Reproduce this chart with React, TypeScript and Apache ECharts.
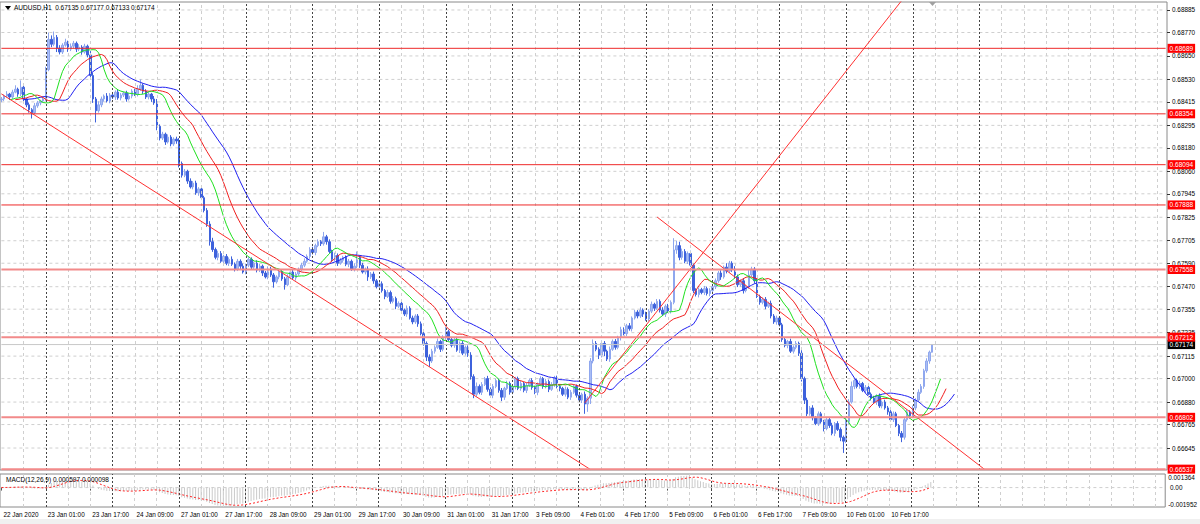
import React, { useEffect, useRef } from "react";
import * as echarts from "echarts";

// ---------- data ----------
const headerText = "AUDUSD,H1  0.67135 0.67177 0.67133 0.67174";
const macdHeaderText = "MACD(12,26,9) 0.000597 0.000098";

// prices in points (0.00001) above 0.66000
const BASE = 0.66;
const PT = 0.00001;
const firstOpen = 2425;
const closes = [
  2430, 2445, 2455, 2440, 2465, 2480, 2455, 2490, 2430, 2400, 2375, 2360, 2395, 2410, 2420, 2430,
  2580, 2735, 2710, 2745, 2690, 2670, 2705, 2720, 2685, 2700, 2715, 2685, 2695, 2670, 2700, 2655,
  2550, 2430, 2370,
  2400, 2430, 2445, 2420, 2450, 2440, 2465, 2435, 2450, 2460, 2430, 2445, 2470, 2455, 2480, 2500, 2470, 2440, 2455, 2430, 2410,
  2290, 2230, 2250, 2210, 2235, 2200, 2225, 2215,
  2100, 2040, 2060, 2010, 1980, 2000, 1950, 1970, 1925,
  1860, 1790, 1700,
  1660, 1620, 1640, 1600, 1625, 1590, 1610,
  1585, 1560, 1600, 1575, 1545, 1580, 1610, 1570, 1590, 1555, 1575,
  1540, 1520, 1560, 1530, 1495, 1520, 1545, 1510, 1480, 1520, 1545, 1515, 1535, 1560,
  1580, 1600, 1625, 1660, 1645, 1680, 1700, 1690, 1725, 1700,
  1650, 1610, 1630, 1590, 1605, 1620, 1585,
  1600, 1560, 1575, 1620, 1580, 1545, 1560, 1520, 1535,
  1500, 1470, 1485, 1450,
  1420, 1440, 1395, 1410, 1370, 1385,
  1350, 1330, 1360, 1310, 1290, 1320, 1280,
  1230, 1180, 1110, 1090, 1140,
  1160, 1190, 1150, 1210, 1240, 1200, 1170, 1200, 1145, 1180, 1130, 1160, 1120,
  1010, 920, 960,
  930, 970, 1000, 945, 915, 960, 990, 940, 905, 950, 975, 930, 960, 1000, 950,
  975, 940, 965, 990, 955, 930, 970, 1000, 960, 985, 945, 970, 1005, 960,
  950, 920, 945, 905, 930, 960, 915, 890, 920, 870, 900,
  1090, 1180, 1150,
  1120, 1180, 1140, 1100, 1150, 1190, 1160, 1210,
  1250, 1230, 1270, 1255,
  1310, 1340, 1320, 1350, 1330, 1305,
  1345, 1380, 1360, 1395, 1350, 1330, 1370, 1345, 1390,
  1658, 1680, 1620, 1650, 1600, 1640, 1580,
  1450, 1430, 1455, 1440, 1460, 1435, 1450, 1470,
  1500, 1540, 1520, 1570, 1550, 1590, 1560,
  1520, 1480, 1500, 1450, 1470,
  1530, 1560, 1500,
  1420, 1390, 1405, 1370, 1385,
  1320, 1290, 1310, 1275,
  1200, 1170, 1190, 1140, 1160, 1180, 1130,
  1000, 890, 820,
  850, 800, 770, 820, 780, 745, 790,
  760, 720, 770, 740, 700, 680,
  780, 880, 960,
  990, 960, 975, 940, 955, 920,
  900, 880, 910, 860, 880, 850,
  830, 790, 820, 760, 720, 700,
  790, 830, 810, 850,
  890, 930, 960,
  1040, 1090, 1135, 1174,
];
const upWick = [
  10, 8, 15, 6, 12, 20, 8, 35, 10, 6, 12, 8, 14, 10, 6, 12,
  15, 35, 20, 30, 12, 15, 10, 18, 8, 14, 12, 9, 15, 10, 12, 8,
  20, 15, 10, 18, 12, 8, 15, 10, 12, 9, 14, 10, 8, 12, 15, 10,
  12, 20, 30, 8, 10, 12, 6, 15, 20, 10, 12, 8, 14, 10, 9, 12,
  15, 10, 12, 8, 14, 10, 12, 9, 8, 10, 12, 15, 20, 10, 14, 12,
  8, 12, 10, 15, 9, 12, 10, 14, 8, 12, 10, 9, 15, 12, 8, 10,
  14, 12, 10, 8, 15, 12, 10, 14, 9, 12, 10, 8, 12, 15, 10, 12,
  14, 10, 12, 8, 25, 10, 12, 9, 14, 10, 12, 8, 10, 12, 9, 15,
  30, 10, 12, 8, 14, 10, 12, 9, 10, 12, 8, 14, 10, 12, 9, 10,
  12, 8, 14, 10, 12, 9, 10, 12, 8, 10, 14, 12, 10, 15, 8, 12,
  25, 10, 12, 8, 14, 10, 12, 9, 10, 15, 12, 20, 10, 12, 8, 14,
  10, 12, 9, 10, 12, 8, 14, 10, 12, 9, 10, 12, 8, 14, 10, 12,
  9, 10, 12, 8, 14, 10, 12, 9, 10, 12, 8, 14, 10, 12, 9, 10,
  12, 8, 14, 10, 15, 20, 12, 10, 15, 12, 8, 14, 10, 12, 9, 15,
  12, 10, 14, 8, 12, 10, 15, 9, 12, 10, 14, 8, 12, 10, 15, 9,
  12, 10, 60, 25, 20, 15, 12, 10, 14, 8, 12, 10, 9, 14, 10, 12,
  15, 12, 10, 14, 8, 20, 12, 10, 15, 12, 8, 14, 10, 25, 12, 10,
  12, 9, 10, 12, 8, 14, 10, 12, 9, 10, 12, 8, 14, 10, 12, 9,
  15, 10, 12, 10, 14, 8, 12, 10, 9, 12, 10, 14, 8, 12, 10, 9,
  20, 15, 25, 12, 10, 14, 8, 12, 10, 9, 12, 10, 14, 8, 12, 10,
  9, 12, 10, 8, 12, 10, 14, 8, 12, 10, 15, 12, 10, 14, 8, 3,
];
const downWick = [
  12, 10, 8, 15, 10, 6, 14, 10, 20, 12, 15, 30, 8, 10, 12, 8,
  10, 8, 15, 10, 20, 12, 10, 8, 14, 10, 12, 15, 10, 14, 8, 12,
  15, 20, 60, 10, 12, 14, 8, 12, 10, 15, 9, 12, 10, 14, 8, 12,
  10, 12, 8, 14, 10, 12, 15, 10, 20, 12, 10, 15, 8, 12, 10, 14,
  20, 12, 10, 14, 8, 12, 10, 15, 12, 10, 14, 20, 12, 10, 15, 8,
  12, 10, 14, 9, 12, 10, 15, 8, 12, 10, 14, 9, 12, 10, 15, 8,
  12, 10, 30, 9, 12, 10, 25, 8, 12, 10, 14, 9, 12, 10, 8, 12,
  10, 14, 8, 12, 10, 15, 9, 12, 10, 14, 8, 12, 10, 15, 9, 12,
  10, 14, 8, 12, 20, 10, 15, 9, 12, 10, 14, 8, 12, 10, 15, 9,
  12, 10, 14, 8, 12, 10, 15, 9, 12, 20, 30, 10, 12, 8, 14, 10,
  12, 9, 10, 12, 8, 14, 10, 12, 9, 15, 20, 12, 10, 14, 8, 12,
  10, 15, 9, 12, 20, 14, 8, 12, 10, 15, 9, 12, 10, 14, 8, 12,
  10, 15, 9, 12, 10, 14, 8, 12, 10, 15, 9, 12, 10, 14, 8, 12,
  10, 15, 50, 40, 30, 12, 10, 20, 12, 25, 10, 14, 8, 12, 10, 15,
  9, 12, 10, 14, 8, 12, 10, 15, 9, 12, 10, 14, 8, 12, 10, 15,
  9, 12, 10, 20, 15, 12, 10, 14, 8, 12, 10, 15, 9, 12, 10, 14,
  8, 12, 10, 15, 9, 12, 10, 14, 8, 12, 10, 15, 9, 12, 10, 14,
  8, 12, 10, 15, 9, 12, 10, 14, 8, 12, 10, 15, 9, 12, 10, 14,
  15, 20, 12, 10, 14, 8, 12, 10, 15, 9, 12, 10, 14, 8, 20, 60,
  10, 12, 8, 14, 10, 12, 9, 15, 10, 12, 8, 14, 10, 12, 9, 15,
  10, 12, 8, 14, 25, 12, 10, 15, 9, 12, 10, 8, 12, 10, 14, 2,
];

const xLabels = [
  "22 Jan 2020", "23 Jan 01:00", "23 Jan 17:00", "24 Jan 09:00", "27 Jan 01:00",
  "27 Jan 17:00", "28 Jan 09:00", "29 Jan 01:00", "29 Jan 17:00", "30 Jan 09:00",
  "31 Jan 01:00", "31 Jan 17:00", "3 Feb 09:00", "4 Feb 01:00", "4 Feb 17:00",
  "5 Feb 09:00", "6 Feb 01:00", "6 Feb 17:00", "7 Feb 09:00", "10 Feb 01:00", "10 Feb 17:00",
];
const yTicks = [
  0.68885, 0.6877, 0.6865, 0.6853, 0.68415, 0.68295, 0.6818, 0.6806, 0.67945, 0.67825,
  0.67705, 0.6759, 0.6747, 0.67355, 0.67235, 0.67115, 0.67, 0.6688, 0.66765, 0.66645,
];
// horizontal levels drawn on the chart
const upperLevels = [0.68689, 0.68354, 0.68094, 0.67888];
const lowerLevels = [0.67558, 0.67212, 0.66802, 0.66537];
const lastPrice = 0.67174;
// trend lines: [barIndex, price] pairs
const trendLines = [
  [[0, 0.68456], [212, 0.66535]],
  [[236, 0.67826], [354, 0.66534]],
  [[210, 0.66876], [324, 0.68933]],
];
const macdTicks = [0.001364, 0, -0.001952];
const macdTickText = ["0.001364", "0.00", "-0.001952"];

// ---------- layout constants ----------
const SLOTS = 420;
const LABEL_EVERY = 16;
const Y_MAX = 0.689259;
const Y_MIN = 0.665326;
const FONT = "'Liberation Sans', Arial, sans-serif";

function buildOHLC() {
  const out: number[][] = [];
  const med: number[] = [];
  for (let i = 0; i < closes.length; i++) {
    const o = i === 0 ? firstOpen : closes[i - 1];
    const c = closes[i];
    const h = Math.max(o, c) + upWick[i];
    const l = Math.min(o, c) - downWick[i];
    out.push([BASE + o * PT, BASE + c * PT, BASE + l * PT, BASE + h * PT]);
    med.push(BASE + ((h + l) / 2) * PT);
  }
  return { out, med };
}

function smmaShift(src: number[], period: number, shift: number) {
  const res: (number | null)[] = new Array(SLOTS).fill(null);
  let s = src[0];
  for (let i = 0; i < src.length; i++) {
    s = i === 0 ? src[0] : (s * (period - 1) + src[i]) / period;
    if (i + shift < SLOTS) res[i + shift] = s;
  }
  return res;
}

function macdCalc() {
  const px = closes.map((c) => BASE + c * PT);
  const k12 = 2 / 13, k26 = 2 / 27;
  let e12 = px[0], e26 = px[0];
  const m: number[] = [];
  for (let i = 0; i < px.length; i++) {
    e12 = i === 0 ? px[0] : px[i] * k12 + e12 * (1 - k12);
    e26 = i === 0 ? px[0] : px[i] * k26 + e26 * (1 - k26);
    m.push(e12 - e26);
  }
  const sig: number[] = [];
  for (let i = 0; i < m.length; i++) {
    const a = Math.max(0, i - 8);
    let s = 0;
    for (let j = a; j <= i; j++) s += m[j];
    sig.push(s / (i - a + 1));
  }
  return { m, sig };
}

function hLine(v: number, lineStyle: any, z: number, xi = 0, yi = 0, label?: any) {
  return {
    type: "line", xAxisIndex: xi, yAxisIndex: yi, silent: true, z,
    data: [[0, v], [SLOTS - 1, v]], showSymbol: false, symbol: "none",
    lineStyle, endLabel: label ? label : { show: false },
  };
}

function tag(text: string, bg: string) {
  return {
    show: true, formatter: () => text, distance: 2,
    backgroundColor: bg, color: "#ffffff", fontSize: 6.5, fontFamily: FONT, padding: [1, 2, 1, 2],
  };
}

export default function App() {
  const ref = useRef<HTMLDivElement>(null);
  useEffect(() => {
    if (!ref.current) return;
    const chart = echarts.init(ref.current, null, { renderer: "svg" });
    const cats = Array.from({ length: SLOTS }, (_, i) => String(i));
    const { out, med } = buildOHLC();
    const jaw = smmaShift(med, 13, 8);
    const teeth = smmaShift(med, 8, 5);
    const lips = smmaShift(med, 5, 3);
    const { m, sig } = macdCalc();

    const vGrid: any[] = [];
    for (let k = 8; k < SLOTS; k += 8) {
      const dark = (k - 16) % 24 === 0 && k <= 352;
      vGrid.push({
        xAxis: k,
        lineStyle: dark
          ? { color: "#454545", type: [2, 2], width: 1 }
          : { color: "#cfcfcf", type: [3, 3], width: 1 },
      });
    }
    const gridDash = { color: "#cfcfcf", type: [3, 3], width: 1 };

    const labelInterval = (index: number) => index % LABEL_EVERY === 0 && index / LABEL_EVERY < xLabels.length;
    const macdEdgeTicks = [macdTicks[0], macdTicks[2]];

    const option: any = {
      animation: false,
      backgroundColor: "#ffffff",
      textStyle: { fontFamily: FONT },
      grid: [
        { left: 0, top: 2, width: 1167, height: 468, show: true, borderColor: "#8a8a8a", borderWidth: 1 },
        { left: 0, top: 474, width: 1167, height: 33, show: true, borderColor: "#8a8a8a", borderWidth: 1 },
      ],
      xAxis: [
        {
          type: "category", data: cats, gridIndex: 0, boundaryGap: true,
          axisLine: { show: false }, axisTick: { show: false }, axisLabel: { show: false }, splitLine: { show: false },
        },
        {
          type: "category", data: cats, gridIndex: 1, boundaryGap: true,
          axisLine: { show: false },
          axisTick: { show: true, alignWithLabel: true, interval: labelInterval, length: 3, lineStyle: { color: "#555" } },
          axisLabel: {
            show: true, interval: labelInterval, align: "left", margin: 4, padding: [0, 0, 0, 2],
            fontSize: 6.4, color: "#000", fontFamily: FONT,
            formatter: (v: string) => xLabels[Number(v) / LABEL_EVERY] ?? "",
          },
          splitLine: { show: false },
        },
      ],
      yAxis: [
        {
          type: "value", gridIndex: 0, position: "right", min: Y_MIN, max: Y_MAX, scale: true,
          axisLine: { show: false },
          axisTick: { show: true, customValues: yTicks, length: 3, lineStyle: { color: "#333" } },
          splitLine: { show: false },
          axisLabel: {
            customValues: yTicks, margin: 5, fontSize: 6.4, color: "#000", fontFamily: FONT,
            hideOverlap: false, showMinLabel: true, showMaxLabel: true,
            formatter: (v: number) => v.toFixed(5),
          },
        },
        {
          type: "value", gridIndex: 1, position: "right", min: macdTicks[2], max: macdTicks[0],
          axisLine: { show: false },
          axisTick: { show: false },
          splitLine: { show: false },
          axisLabel: {
            customValues: macdEdgeTicks, margin: 3, fontSize: 6.4, color: "#000", fontFamily: FONT,
            hideOverlap: false, showMinLabel: true, showMaxLabel: true,
            formatter: (v: number) => (v > 0 ? `{t|${macdTickText[0]}}` : `{b|${macdTickText[2]}}`),
            rich: {
              t: { padding: [7, 0, 0, 0], fontSize: 6.4, color: "#000" },
              b: { padding: [0, 0, 5, 0], fontSize: 6.4, color: "#000" },
            },
          },
        },
      ],
      series: [
        {
          type: "line", xAxisIndex: 0, yAxisIndex: 0, data: [], z: 1, silent: true,
          markLine: { silent: true, symbol: ["none", "none"], label: { show: false }, data: vGrid },
        },
        {
          type: "line", xAxisIndex: 1, yAxisIndex: 1, data: [], z: 1, silent: true,
          markLine: { silent: true, symbol: ["none", "none"], label: { show: false }, data: vGrid },
        },
        ...yTicks.map((v) => hLine(v, gridDash, 1)),
        hLine(0, gridDash, 1, 1, 1),
        {
          type: "candlestick", xAxisIndex: 0, yAxisIndex: 0, data: out, barWidth: 2, z: 3,
          itemStyle: { color: "#a9bdf4", color0: "#3e62dc", borderColor: "#8fa7ee", borderColor0: "#3e62dc", borderWidth: 1 },
        },
        { type: "line", xAxisIndex: 0, yAxisIndex: 0, data: jaw, showSymbol: false, z: 4, lineStyle: { color: "#1f1ff0", width: 1 } },
        { type: "line", xAxisIndex: 0, yAxisIndex: 0, data: teeth, showSymbol: false, z: 4, lineStyle: { color: "#f01f1f", width: 1 } },
        { type: "line", xAxisIndex: 0, yAxisIndex: 0, data: lips, showSymbol: false, z: 4, lineStyle: { color: "#1fe01f", width: 1 } },
        ...trendLines.map((tl) => ({
          type: "line", xAxisIndex: 0, yAxisIndex: 0, data: tl, showSymbol: false, z: 5, clip: true,
          lineStyle: { color: "#ff3030", width: 1 },
        })),
        hLine(lastPrice, { color: "#c8c8c8", width: 1 }, 5, 0, 0, tag(lastPrice.toFixed(5), "#000000")),
        ...upperLevels.map((v) => hLine(v, { color: "#ee2a2a", width: 1 }, 6, 0, 0, tag(v.toFixed(5), "#ff0000"))),
        ...lowerLevels.map((v) => hLine(v, { color: "#f28a8a", width: 2 }, 6, 0, 0, tag(v.toFixed(5), "#ff0000"))),
        {
          type: "bar", xAxisIndex: 1, yAxisIndex: 1, data: m, barWidth: 1, z: 3,
          itemStyle: { color: "#cacaca" },
        },
        {
          type: "line", xAxisIndex: 1, yAxisIndex: 1, data: sig, showSymbol: false, z: 4,
          lineStyle: { color: "#ff2020", width: 1, type: [2, 2] },
        },
      ],
      graphic: [
        { type: "polygon", shape: { points: [[5, 6], [11, 6], [8, 10]] }, style: { fill: "#000" }, z: 10 },
        { type: "text", x: 14, y: 4, style: { text: headerText, fontSize: 6.5, fill: "#000", fontFamily: FONT }, z: 10 },
        { type: "text", x: 6, y: 476, style: { text: macdHeaderText, fontSize: 6.5, fill: "#000", fontFamily: FONT }, z: 10 },
        { type: "polygon", shape: { points: [[929, 2], [936, 2], [932.5, 6]] }, style: { fill: "#a0a0a0" }, z: 10 },
        { type: "rect", shape: { x: 0, y: 519, width: 1200, height: 5 }, style: { fill: "#f0f0f0" }, z: 0 },
      ],
    };
    chart.setOption(option);

    // zero label of the MACD scale, placed through the axis' own mapping
    const zeroY = chart.convertToPixel({ yAxisIndex: 1 }, macdTicks[1]) as number;
    chart.setOption({
      graphic: [
        {
          id: "macdZero", type: "text", x: 1170, y: zeroY, z: 10,
          style: { text: macdTickText[1], fontSize: 6.4, fill: "#000", fontFamily: FONT, verticalAlign: "middle" },
        },
      ],
    });
    return () => chart.dispose();
  }, []);
  return (
    <div
      ref={ref}
      style={{ position: "fixed", left: 0, top: 0, width: 1200, height: 524, background: "#fff" }}
    />
  );
}
